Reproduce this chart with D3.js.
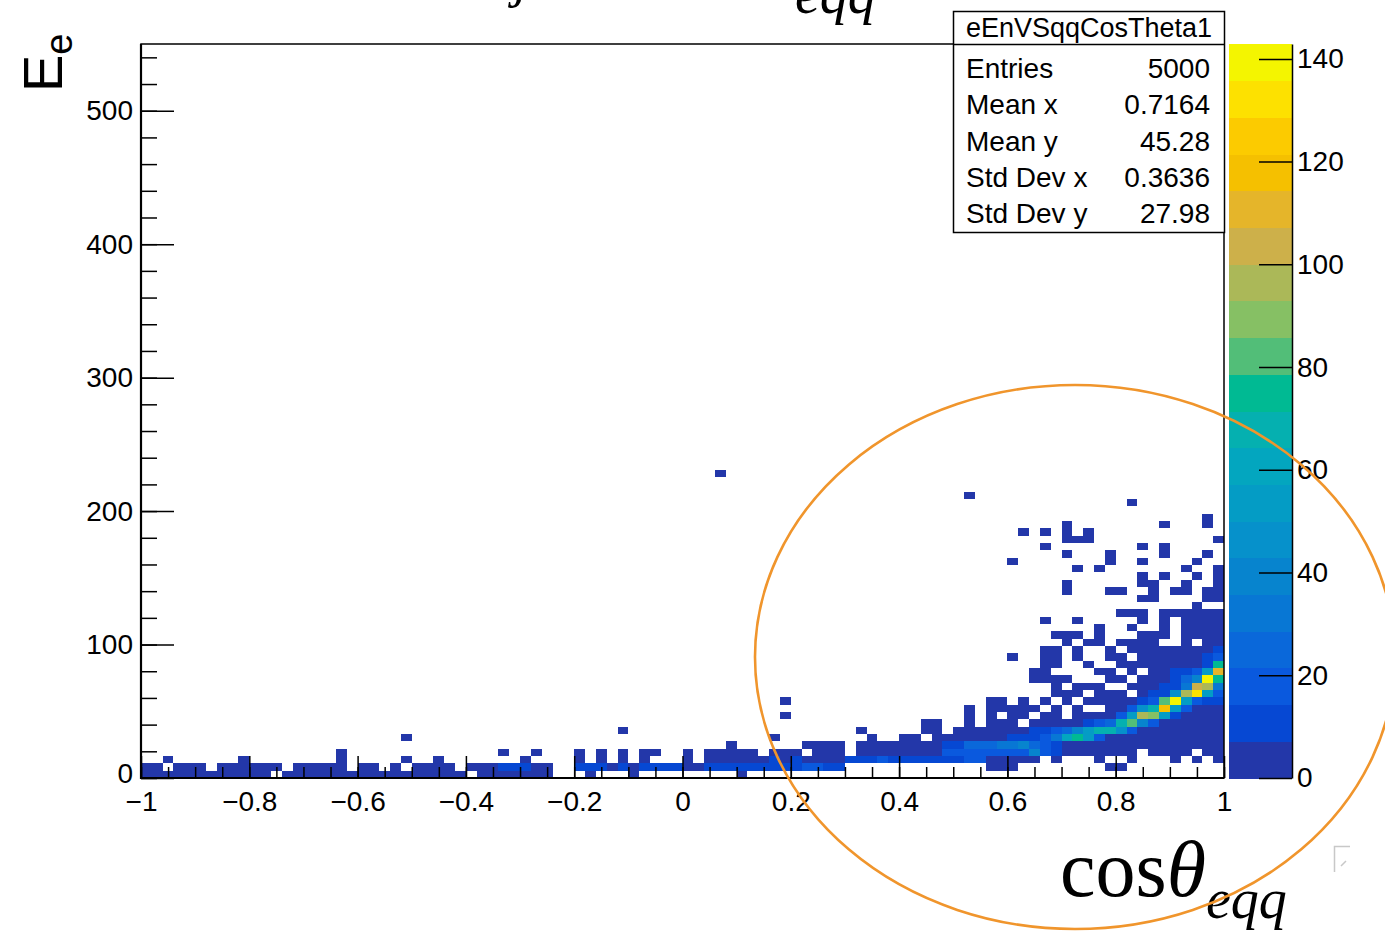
<!DOCTYPE html>
<html>
<head>
<meta charset="utf-8">
<script src="https://cdn.jsdelivr.net/npm/d3@7"></script>
<style>
  body { margin: 0; background: #fff; }
  svg { display: block; }
  text { font-family: "Liberation Sans", Arial, Helvetica, sans-serif; fill: #000; }
  .serif { font-family: "Liberation Serif", "Times New Roman", serif; }
</style>
</head>
<body>
<svg id="chart" width="1385" height="931"></svg>
<script>
// histogram binning (100 x 100 bins, TH2 style)
const xDomain = [-1, 1];
const yDomain = [0, 550];
const nBinsX = 100;
const nBinsY = 100;
const zMax = 142.9;

// axis ticks
const xTickValues = [-1, -0.8, -0.6, -0.4, -0.2, 0, 0.2, 0.4, 0.6, 0.8, 1];
const xTickLabels = ["\u22121", "\u22120.8", "\u22120.6", "\u22120.4", "\u22120.2", "0", "0.2", "0.4", "0.6", "0.8", "1"];
const yTickValues = [0, 100, 200, 300, 400, 500];
const zTickValues = [0, 20, 40, 60, 80, 100, 120, 140];

// stats box
const statsTitle = "eEnVSqqCosTheta1";
const statsLabels = ["Entries", "Mean x", "Mean y", "Std Dev x", "Std Dev y"];
const statsValues = ["5000", "0.7164", "45.28", "0.3636", "27.98"];

// 20 contour colours of the palette, low -> high
const paletteColors = ["#2337a9", "#0648d3", "#0a59de", "#0a68da", "#0877d4",
                       "#0784ce", "#0691cb", "#049cc5", "#03a6bf", "#05b0b0",
                       "#00ba93", "#52be78", "#86c064", "#abb858", "#cdb04a",
                       "#e5b52a", "#f5c000", "#fccb00", "#fde100", "#f4f500"];

// bin contents, one string per y bin (bottom first),
// one char per x bin: '.' empty, 1-9 / a-k = colour band 1..20
const levelKey = ".123456789abcdefghijk";
const cellRows = [
  "1111111111 11.1111111 1111111111 .1111111.. .1...1.... .....1.... .......... .......... .......... ..........",
  "11.111.111 111.11111. 11.1.1111. 11122211.. 2221212222 1122222222 23322..... ........11 1........1 1.........",
  "..1......1 ........1. ....1..1.. .....1.... 1.1.1.1... 1.11111121 2111122232 2222223311 111.1...1. .1...1.1.1",
  ".......... ........1. .......... ...1..1... 1.1.1.11.. 1.11111.11 1.111.1111 1111333333 3363211111 11.1111.11",
  ".......... .......... .......... .......... .......... ....1..... .1111.1111 1111224445 5643211111 1111111111",
  ".......... .......... ....1..... .......... .......... ........1. .......1.. 11.1111111 222359b831 1111111111",
  ".......... .......... .......... .......... ....1..... .......... ......1... ..11.11111 11223468aa 7311111111",
  ".......... .......... .......... .......... .......... .......... .......... ..11..1.11 1.11111234 ac63111111",
  ".......... .......... .......... .......... .......... .........1 .......... ......1.1. 11.11.1111 38ed821111",
  ".......... .......... .......... .......... .......... .......... .......... ......1.11 111.1.1..1 137ah83111",
  ".......... .......... .......... .......... .......... .........1 .......... ........11 .1.1.1.111 1123ck8322",
  ".......... .......... .......... .......... .......... .......... .......... .......... ....111.11 1.1227ej83",
  ".......... .......... .......... .......... .......... .......... .......... .......... ....1.111. .111225fe5",
  ".......... .......... .......... .......... .......... .......... .......... .......... ..1111...1 1.111246kb",
  ".......... .......... .......... .......... .......... .......... .......... .......... ..11....11 .1.112238g",
  ".......... .......... .......... .......... .......... .......... .......... .......... ...11..1.. 111111112b",
  ".......... .......... .......... .......... .......... .......... .......... .......... 1..11.1..1 1.11111123",
  ".......... .......... .......... .......... .......... .......... .......... .......... ...11.1..1 .111111112",
  ".......... .......... .......... .......... .......... .......... .......... .......... .....1.11. 1111..1.11",
  ".......... .......... .......... .......... .......... .......... .......... .......... ....111.1. ..111.1111",
  ".......... .......... .......... .......... .......... .......... .......... .......... ........1. .1..1.1111",
  ".......... .......... .......... .......... .......... .......... .......... .......... ...1..1... ..1.1.1111",
  ".......... .......... .......... .......... .......... .......... .......... .......... .......... 111.111111",
  ".......... .......... .......... .......... .......... .......... .......... .......... .......... .......1..",
  ".......... .......... .......... .......... .......... .......... .......... .......... .......... ..11....11",
  ".......... .......... .......... .......... .......... .......... .......... .......... .....1...1 1..1.11.11",
  ".......... .......... .......... .......... .......... .......... .......... .......... .....1.... ..11..1..1",
  ".......... .......... .......... .......... .......... .......... .......... .......... .......... ..1.1..1.1",
  ".......... .......... .......... .......... .......... .......... .......... .......... ......1.1. ......1..1",
  ".......... .......... .......... .......... .......... .......... .......... .......... 1........1 ..1....1..",
  ".......... .......... .......... .......... .......... .......... .......... .......... .....1...1 ....1...1.",
  ".......... .......... .......... .......... .......... .......... .......... .......... ...1...... ..1.1.....",
  ".......... .......... .......... .......... .......... .......... .......... .......... .....111.. .........1",
  ".......... .......... .......... .......... .......... .......... .......... .......... .1.1.1.1.. ..........",
  ".......... .......... .......... .......... .......... .......... .......... .......... .....1.... ....1...1.",
  ".......... .......... .......... .......... .......... .......... .......... .......... .......... ........1.",
  ".......... .......... .......... .......... .......... .......... .......... .......... .......... ..........",
  ".......... .......... .......... .......... .......... .......... .......... .......... .......... .1........",
  ".......... .......... .......... .......... .......... .......... .......... ......1... .......... ..........",
  ".......... .......... .......... .......... .......... .......... .......... .......... .......... ..........",
  ".......... .......... .......... .......... .......... .......... .......... .......... .......... ..........",
  ".......... .......... .......... .......... .......... ...1...... .......... .......... .......... .........."
];

// ---------------------------------------------------------------------------

const svg = d3.select("#chart");
const frame = {left: 141, right: 1224, top: 44, bottom: 778};

const x = d3.scaleLinear().domain(xDomain).range([frame.left, frame.right]);
const y = d3.scaleLinear().domain(yDomain).range([frame.bottom, frame.top]);
const z = d3.scaleLinear().domain([0, zMax]).range([frame.bottom, frame.top]);
const color = d3.scaleQuantize().domain([0, zMax]).range(paletteColors);

const xEdges = d3.range(nBinsX + 1).map(i => xDomain[0] + i * (xDomain[1] - xDomain[0]) / nBinsX);
const yEdges = d3.range(nBinsY + 1).map(j => yDomain[0] + j * (yDomain[1] - yDomain[0]) / nBinsY);

// band level -> bin content (middle of the colour band)
const bandWidth = zMax / paletteColors.length;
const cells = [];
cellRows.forEach((row, j) => {
    row.replace(/ /g, "").padEnd(nBinsX, ".").split("").forEach((ch, i) => {
        const lvl = levelKey.indexOf(ch);
        if (lvl > 0) cells.push({i: i, j: j, count: (lvl - 0.5) * bandWidth});
    });
});

// histogram cells
svg.append("g")
    .attr("shape-rendering", "crispEdges")
    .selectAll("rect")
    .data(cells)
    .join("rect")
    .attr("x", d => Math.round(x(xEdges[d.i])))
    .attr("width", d => Math.round(x(xEdges[d.i + 1])) - Math.round(x(xEdges[d.i])))
    .attr("y", d => Math.round(y(yEdges[d.j + 1])))
    .attr("height", d => Math.round(y(yEdges[d.j])) - Math.round(y(yEdges[d.j + 1])))
    .attr("fill", d => color(d.count));

// axes, ticks drawn inside the frame like ROOT
const tickStyle = g => {
    g.select(".domain").remove();
    g.selectAll(".tick line").attr("stroke", "#000").attr("stroke-width", 1.5);
    g.selectAll(".tick text").attr("font-size", 28).attr("font-family", "Liberation Sans, Arial, sans-serif");
};

svg.append("g")
    .attr("transform", `translate(0,${frame.bottom})`)
    .call(d3.axisBottom(x).tickValues(d3.range(-1, 1.0001, 0.05)).tickSize(-11).tickFormat(""))
    .call(tickStyle);
svg.append("g")
    .attr("transform", `translate(0,${frame.bottom})`)
    .call(d3.axisBottom(x).tickValues(xTickValues).tickSize(-22).tickPadding(13)
        .tickFormat((d, i) => xTickLabels[i]))
    .call(tickStyle);

svg.append("g")
    .attr("transform", `translate(${frame.left},0)`)
    .call(d3.axisLeft(y).tickValues(d3.range(0, 550, 20)).tickSize(-16).tickFormat(""))
    .call(tickStyle);
svg.append("g")
    .attr("transform", `translate(${frame.left},0)`)
    .call(d3.axisLeft(y).tickValues(yTickValues).tickSize(-33).tickPadding(8))
    .call(tickStyle)
    .call(g => g.selectAll(".tick text").filter(d => d === 0).attr("dy", "0.15em"));

// frame
svg.append("rect")
    .attr("x", frame.left).attr("y", frame.top)
    .attr("width", frame.right - frame.left).attr("height", frame.bottom - frame.top)
    .attr("fill", "none").attr("stroke", "#000").attr("stroke-width", 1.5);
svg.append("path")
    .attr("d", `M${frame.left},${frame.top}V${frame.bottom}H${frame.right}`)
    .attr("fill", "none").attr("stroke", "#000").attr("stroke-width", 2.2);

// colour palette
const palX = 1229, palW = 63;
svg.append("g")
    .attr("shape-rendering", "crispEdges")
    .selectAll("rect")
    .data(paletteColors)
    .join("rect")
    .attr("x", palX)
    .attr("width", palW)
    .attr("y", (c, k) => z((k + 1) * bandWidth))
    .attr("height", (c, k) => z(k * bandWidth) - z((k + 1) * bandWidth) + 0.5)
    .attr("fill", c => c);

svg.append("g")
    .attr("transform", `translate(${palX + palW},0)`)
    .call(d3.axisRight(z).tickValues(zTickValues).tickSize(-33).tickSizeOuter(0).tickPadding(5))
    .call(g => {
        g.select(".domain").attr("stroke", "#000").attr("stroke-width", 1.5);
        g.selectAll(".tick line").attr("stroke", "#000").attr("stroke-width", 1.5);
        g.selectAll(".tick text").attr("font-size", 28).attr("font-family", "Liberation Sans, Arial, sans-serif");
    });

// stats box
const stats = svg.append("g");
stats.append("rect")
    .attr("x", 953.5).attr("y", 11.5).attr("width", 271).attr("height", 221)
    .attr("fill", "#fff").attr("stroke", "#000").attr("stroke-width", 1.5);
stats.append("line")
    .attr("x1", 953.5).attr("x2", 1224.5).attr("y1", 44.5).attr("y2", 44.5)
    .attr("stroke", "#000").attr("stroke-width", 1.5);
stats.append("text")
    .attr("x", 1089).attr("y", 37).attr("text-anchor", "middle").attr("font-size", 27)
    .text(statsTitle);
statsLabels.forEach((lab, k) => {
    const yy = 78 + k * 36.3;
    stats.append("text").attr("x", 966).attr("y", yy).attr("font-size", 28).text(lab);
    stats.append("text").attr("x", 1210).attr("y", yy).attr("font-size", 28)
        .attr("text-anchor", "end").text(statsValues[k]);
});

// y axis title E_e
const yTitle = svg.append("text")
    .attr("transform", "translate(62,92) rotate(-90)")
    .attr("font-size", 56);
yTitle.append("tspan").text("E");
yTitle.append("tspan").attr("font-size", 38).attr("dy", 10).text("e");

// x axis title cos(theta)_eqq
const xTitle = svg.append("text")
    .attr("class", "serif")
    .attr("x", 1060).attr("y", 896)
    .attr("font-size", 80);
xTitle.append("tspan").text("cos");
xTitle.append("tspan").attr("font-style", "italic").text("\u03b8");
xTitle.append("tspan").attr("font-style", "italic").attr("font-size", 56).attr("dy", 22).text("eqq");

// title clipped by the top edge of the picture
svg.append("text").attr("class", "serif")
    .attr("x", 795).attr("y", 13).attr("font-size", 56).attr("font-style", "italic").text("eqq");
svg.append("text").attr("class", "serif")
    .attr("x", 514).attr("y", -4).attr("font-size", 56).attr("font-style", "italic").text("j");

// small gray handle icon bottom right
svg.append("path")
    .attr("d", "M1334.5,872V846.5H1350 M1341,866L1346,861")
    .attr("fill", "none").attr("stroke", "#c8c8c8").attr("stroke-width", 1.5);

// orange annotation ellipse
svg.append("ellipse")
    .attr("cx", 1075).attr("cy", 657).attr("rx", 320).attr("ry", 272)
    .attr("fill", "none").attr("stroke", "#f0952c").attr("stroke-width", 2.6);
</script>
</body>
</html>
